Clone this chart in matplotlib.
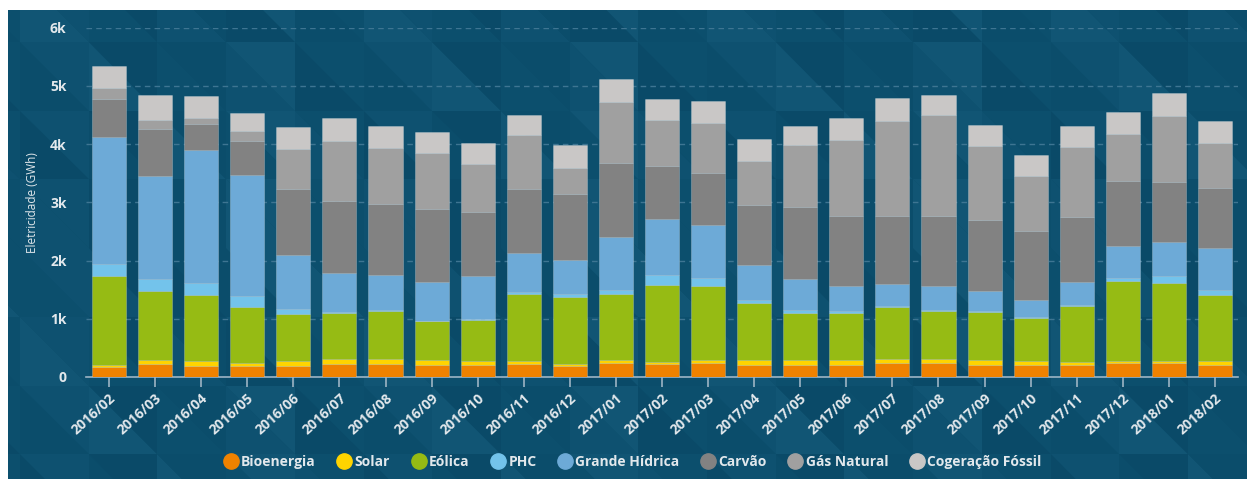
import matplotlib
matplotlib.use("Agg")
import matplotlib.pyplot as plt
from matplotlib.patches import Polygon, Rectangle
from matplotlib.lines import Line2D
import numpy as np

# monthly electricity generation by source (GWh)
months = ['2016/02', '2016/03', '2016/04', '2016/05', '2016/06', '2016/07',
          '2016/08', '2016/09', '2016/10', '2016/11', '2016/12', '2017/01',
          '2017/02', '2017/03', '2017/04', '2017/05', '2017/06', '2017/07',
          '2017/08', '2017/09', '2017/10', '2017/11', '2017/12', '2018/01',
          '2018/02']

bioenergia = [166, 229, 183, 183, 183, 229, 229, 212, 212, 229, 183, 240, 229,
              240, 212, 212, 212, 240, 240, 212, 212, 200, 240, 240, 212]
solar = [46, 68, 92, 57, 92, 80, 80, 85, 68, 51, 34, 57, 28,
         57, 85, 85, 85, 75, 75, 85, 57, 52, 29, 29, 57]
eolica = [1527, 1173, 1132, 961, 801, 789, 829, 658, 693, 1150, 1150, 1133, 1322,
          1259, 973, 801, 801, 886, 823, 824, 744, 972, 1373, 1344, 1138]
phc = [200, 212, 201, 189, 91, 20, 20, 10, 15, 35, 63, 57, 172,
       149, 57, 58, 40, 10, 10, 17, 10, 10, 57, 126, 92]
grande_hidrica = [2175, 1773, 2299, 2088, 921, 661, 598, 665, 751, 663, 578, 916, 961,
                  904, 601, 526, 418, 379, 408, 332, 304, 396, 555, 578, 715]
carvao = [664, 801, 435, 572, 1133, 1242, 1213, 1259, 1093, 1093, 1133, 1275, 904,
          892, 1030, 1236, 1213, 1179, 1213, 1219, 1173, 1116, 1116, 1030, 1030]
gas_natural = [183, 160, 103, 183, 703, 1041, 973, 955, 829, 932, 452, 1053, 800,
               858, 760, 1069, 1298, 1630, 1733, 1281, 955, 1201, 800, 1138, 783]
cogeracao = [389, 435, 389, 309, 378, 383, 377, 372, 366, 349, 389, 395, 361,
             389, 378, 332, 378, 389, 349, 366, 361, 372, 390, 389, 372]

series = [
    ("Bioenergia", bioenergia, "#EF8200"),
    ("Solar", solar, "#FFD400"),
    ("Eólica", eolica, "#96BB14"),
    ("PHC", phc, "#73C3EB"),
    ("Grande Hídrica", grande_hidrica, "#6DAAD7"),
    ("Carvão", carvao, "#828282"),
    ("Gás Natural", gas_natural, "#A0A0A0"),
    ("Cogeração Fóssil", cogeracao, "#C9C7C6"),
]

W, H = 1247, 479
plt.rcParams['font.family'] = ['Open Sans', 'DejaVu Sans']
txt = "#E2E8EC"

fig = plt.figure(figsize=(W / 100, H / 100), dpi=100)
fig.patch.set_facecolor("white")

# dark background with a faint triangle pattern
bg = fig.add_axes([8 / W, 0, 1 - 8 / W, 1 - 10 / H], zorder=-5)
bg.set_xlim(8, W)
bg.set_ylim(H, 10)
bg.axis("off")
bg.add_patch(Rectangle((8, 10), W, H, color="#0B4D6B", lw=0))
shades = ["#0B4D6B", "#0E5170", "#115574", "#0A4A68", "#0C4F6D"]
step = 68.7
for i in range(-1, 19):
    for j in range(-1, 7):
        x0 = 20 + i * step
        y0 = 42 + j * step
        a = shades[(i * 7 + j * 3) % 5]
        b = shades[(i * 2 + j * 5 + 1) % 5]
        bg.add_patch(Polygon([(x0, y0), (x0, y0 + step), (x0 + step, y0 + step)],
                             closed=True, color=a, lw=0))
        bg.add_patch(Polygon([(x0, y0), (x0 + step, y0), (x0 + step, y0 + step)],
                             closed=True, color=b, lw=0))

ax = fig.add_axes([86 / W, 1 - 377 / H, 1152 / W, (377 - 27.7) / H])
ax.set_facecolor("none")
x = np.arange(len(months))
bottom = np.zeros(len(months))
for name, vals, col in series:
    ax.bar(x, vals, width=0.74, bottom=bottom, color=col, label=name,
           edgecolor=(1, 1, 1, 0.25), linewidth=0.6, zorder=3)
    bottom += np.array(vals)

ax.set_xlim(-0.5, len(months) - 0.5)
ax.set_ylim(0, 6000)
ax.set_yticks(range(0, 7000, 1000))
ax.set_yticklabels(["0"] + [f"{k}k" for k in range(1, 7)])
ax.set_xticks(x)
ax.set_xticklabels(months, rotation=42, ha="right", rotation_mode="anchor")

for s in ["top", "right", "left"]:
    ax.spines[s].set_visible(False)
ax.spines["bottom"].set_color("#9DB4C4")
ax.spines["bottom"].set_linewidth(1.2)
ax.yaxis.grid(True, linestyle=(0, (4, 3)), color="#3E7592", linewidth=1, zorder=0)
ax.tick_params(axis="y", length=0, pad=14, labelsize=10, labelcolor=txt)
ax.tick_params(axis="x", length=7, width=1.2, color="#9DB4C4", pad=3,
               labelsize=10, labelcolor=txt)
for lab in ax.get_yticklabels() + ax.get_xticklabels():
    lab.set_fontweight("bold")
ax.set_ylabel("Eletricidade (GWh)", color=txt, fontsize=8.5, labelpad=8)

handles = [Line2D([], [], marker="o", linestyle="", markersize=11,
                  markerfacecolor=col, markeredgecolor=col) for _, _, col in series]
leg = fig.legend(handles, [n for n, _, _ in series], loc="center",
                 bbox_to_anchor=(632 / W, 1 - 462 / H), ncol=8, frameon=False,
                 handletextpad=0.15, columnspacing=1.45, fontsize=10,
                 handlelength=1.2)
for t in leg.get_texts():
    t.set_color(txt)
    t.set_fontweight("bold")

fig.savefig("out.png", dpi=100, facecolor=fig.get_facecolor())
